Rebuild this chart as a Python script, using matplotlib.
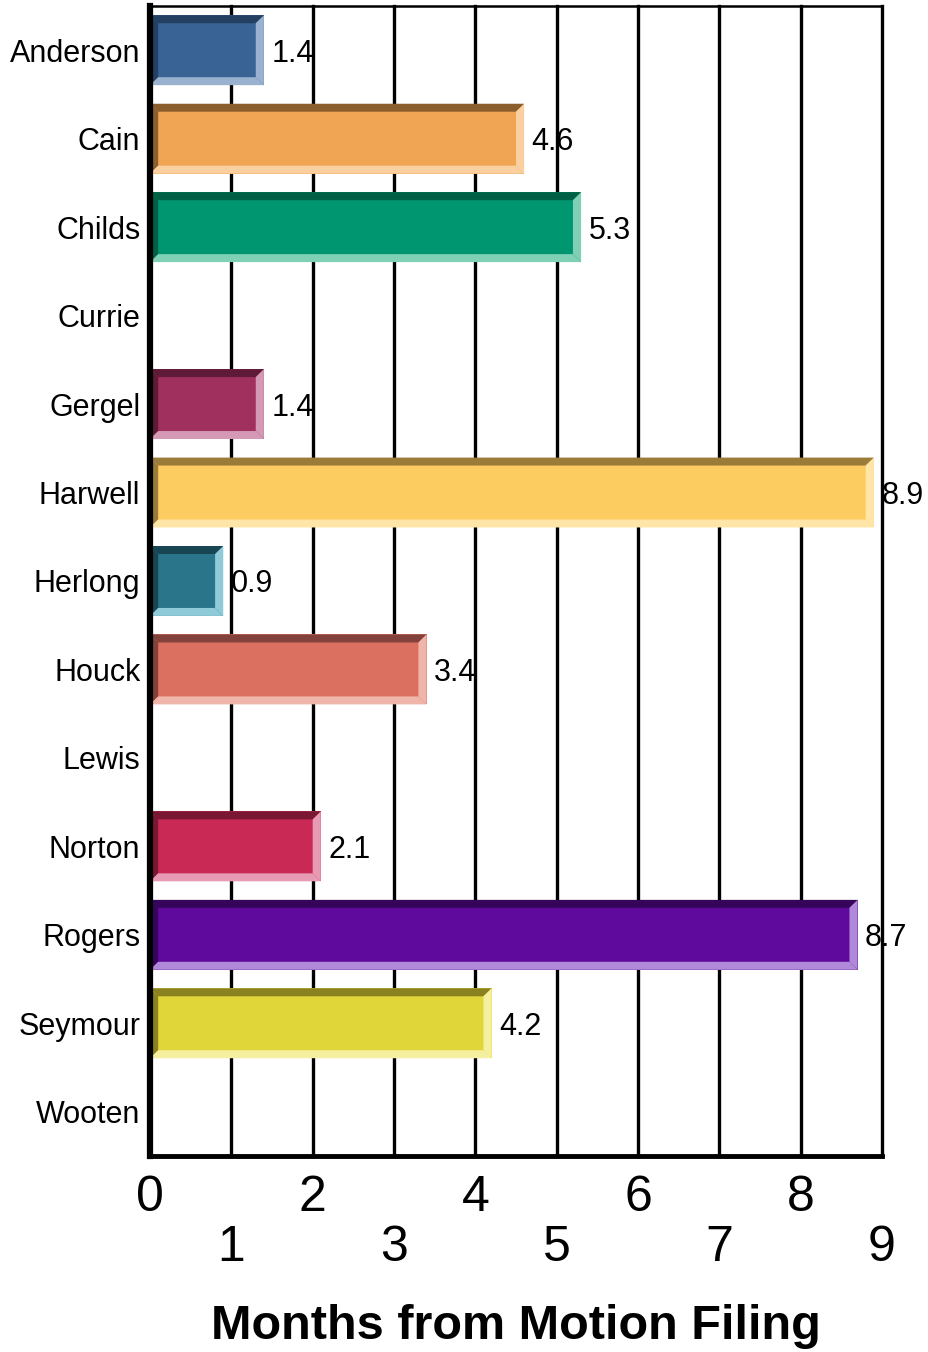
import matplotlib.pyplot as plt
from matplotlib.patches import Polygon

plt.rcParams['font.family'] = ['Liberation Sans', 'DejaVu Sans']

names = ["Anderson", "Cain", "Childs", "Currie", "Gergel", "Harwell", "Herlong",
         "Houck", "Lewis", "Norton", "Rogers", "Seymour", "Wooten"]
months = [1.4, 4.6, 5.3, None, 1.4, 8.9, 0.9, 3.4, None, 2.1, 8.7, 4.2, None]
faces = ["#3A6395", "#F0A555", "#009670", None, "#A0305E", "#FDCC60", "#2A7589",
         "#DC7060", None, "#C82A55", "#5F0A9C", "#E0D63A", None]
darks = ["#233F62", "#8B5E2E", "#005F45", None, "#5E1A37", "#9A7B3A", "#174652",
         "#82413A", None, "#7A1733", "#35055A", "#8A8220", None]
lights = ["#9AB2CF", "#FAD0A0", "#7FD0B5", None, "#D49AB5", "#FFE6A8", "#8ECAD8",
          "#F0B5AA", None, "#E79AB4", "#B08AD8", "#F5EFA0", None]
ticks = list(range(10))

fig = plt.figure(figsize=(9.29, 13.52), dpi=100)
ax = fig.add_axes([0.1615, 0.145, 0.9494 - 0.1615, 0.99556 - 0.145])

h = 0.79
bx, by = 0.1, 0.09  # bevel size in data units (~8 px)

for i, v in enumerate(months):
    if v is None:
        continue
    y0, y1 = i - h / 2, i + h / 2  # y0 is the visual top (axis inverted)
    ax.barh(i, v, height=h, color=faces[i], zorder=3)
    # top (dark)
    ax.add_patch(Polygon([(0, y0), (v, y0), (v - bx, y0 + by), (bx, y0 + by)],
                         closed=True, color=darks[i], lw=0, zorder=4))
    # left (dark)
    ax.add_patch(Polygon([(0, y0), (bx, y0 + by), (bx, y1 - by), (0, y1)],
                         closed=True, color=darks[i], lw=0, zorder=4))
    # right (light)
    ax.add_patch(Polygon([(v, y0), (v, y1), (v - bx, y1 - by), (v - bx, y0 + by)],
                         closed=True, color=lights[i], lw=0, zorder=4))
    # bottom (light)
    ax.add_patch(Polygon([(0, y1), (v, y1), (v - bx, y1 - by), (bx, y1 - by)],
                         closed=True, color=lights[i], lw=0, zorder=4))
    ax.text(v + 0.09, i, f"{v}", va='center_baseline', ha='left', fontsize=22,
            zorder=5)

ax.set_xlim(0, 9)
ax.set_ylim(len(names) - 0.5, -0.5)
ax.set_yticks(range(len(names)))
ax.set_yticklabels(names, fontsize=22)
ax.set_xticks(ticks)
ax.set_xticklabels([str(t) if t % 2 == 0 else "\n" + str(t) for t in ticks],
                   fontsize=36, linespacing=1.1)
ax.tick_params(length=0, pad=7)
ax.tick_params(axis='x', pad=14)

for t in ticks[1:]:
    ax.axvline(t, color='black', lw=2.4, zorder=1, clip_on=False)

ax.spines['left'].set_linewidth(4.5)
ax.spines['bottom'].set_linewidth(3.5)
ax.spines['top'].set_linewidth(1.8)
ax.spines['right'].set_visible(False)
for s in ax.spines.values():
    s.set_zorder(6)

fig.text(0.5555, 0.019, "Months from Motion Filing", ha='center', va='center',
         fontsize=35, fontweight='bold')

plt.savefig('out.png', dpi=100)
